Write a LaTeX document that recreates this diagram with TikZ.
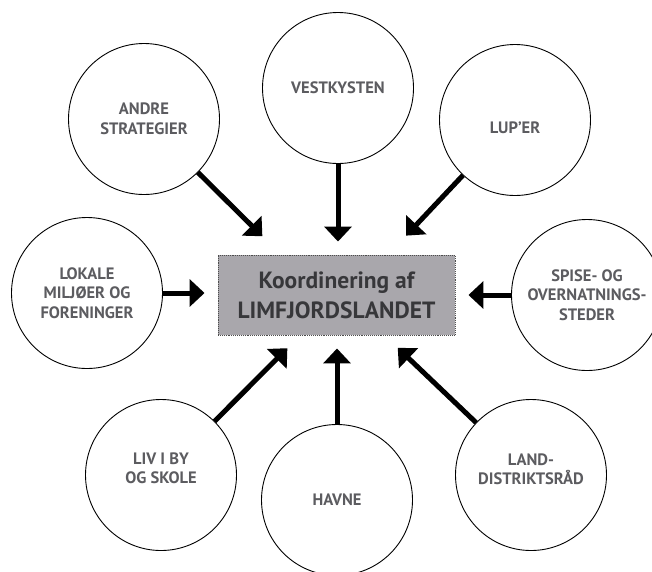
\documentclass[tikz,border=0pt]{standalone}
\usepackage{fontspec}
\setmainfont{PT Sans}
\usetikzlibrary{arrows.meta}
\definecolor{hubgray}{RGB}{169,167,172}
\definecolor{hubtext}{RGB}{55,55,58}
\definecolor{topictext}{RGB}{92,92,96}

\begin{document}
\begin{tikzpicture}[x=1pt, y=-1pt,
  topic/.style={circle, draw, line width=0.9pt, fill=white, minimum size=151pt, inner sep=0pt,
    align=center, text=topictext, font=\bfseries\fontsize{16.5}{19.5}\selectfont},
  hub/.style={rectangle, draw=black!70, densely dotted, line width=0.9pt, fill=hubgray,
    minimum width=237pt, minimum height=80pt, align=center, text=hubtext,
    font=\bfseries\fontsize{23.5}{30}\selectfont},
  feed/.style={line width=5pt, -{Triangle[length=15pt, width=27pt]}, shorten >=13pt}]
  \useasboundingbox (0,0) rectangle (652,571);

  % Define centre box
  \node[hub] (hub) at (336.5,295) {Koordinering af\\LIMFJORDSLANDET};

  % Define circles
  \node[topic] (andre)  at (144,119) {ANDRE\\STRATEGIER};
  \node[topic] (vest)   at (338,88)  {VESTKYSTEN};
  \node[topic] (luper)  at (515,120) {\raisebox{-8pt}[\height][\depth]{LUP’ER}};
  \node[topic] (lokale) at (87,293)  {LOKALE\\MILJØER OG\\FORENINGER};
  \node[topic] (spise)  at (587,295) {SPISE- OG\\OVERNATNINGS-\\STEDER};
  \node[topic] (liv)    at (161,475) {LIV I BY\\OG SKOLE\\[-6pt]};
  \node[topic] (havne)  at (337,500) {HAVNE};
  \node[topic] (land)   at (531,475) {LAND-\\DISTRIKTSRÅD\\[-8pt]};

  % Draw arrows
  \draw[feed, shorten >=26pt] (andre) -- (hub.144);
  \draw[feed] (vest) -- (vest |- hub.north);
  \draw[feed, shorten >=26pt] (luper) -- (hub.38);
  \draw[feed] (lokale) -- (lokale -| hub.west);
  \draw[feed] (spise) -- (spise -| hub.east);
  \draw[feed, shorten >=18pt] (liv) -- (hub.228);
  \draw[feed] (havne) -- (havne |- hub.south);
  \draw[feed, shorten >=18pt] (land) -- (hub.320);

\end{tikzpicture}
\end{document}
